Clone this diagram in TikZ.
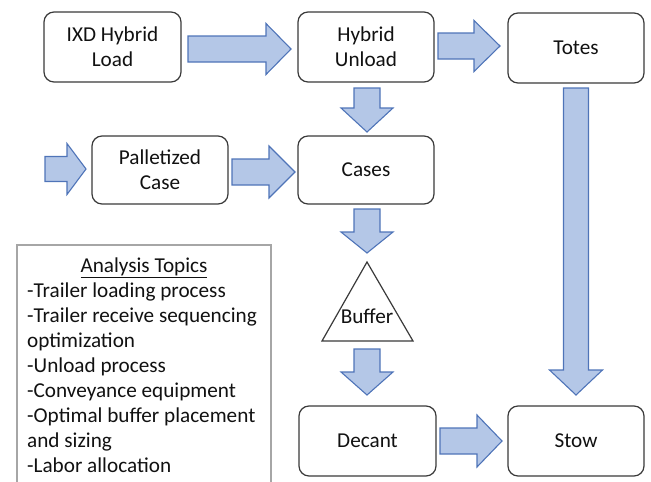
\documentclass[tikz,border=0pt]{standalone}
\usepackage{fontspec}
\setmainfont{Carlito}
\definecolor{arrowfill}{HTML}{B4C7E7}
\definecolor{arrowline}{HTML}{4F74B8}
\definecolor{boxline}{HTML}{3A3A3A}
\definecolor{notesline}{HTML}{A6A6A6}
\definecolor{ink}{HTML}{111111}
% block arrow pointing right: start x, tip x, centre y, shaft half height, head half height, head length
\newcommand\blockR[6]{%
  \draw[blockarrow] (#1,#3-#4) -- (#2-#6,#3-#4) -- (#2-#6,#3-#5) -- (#2,#3)
    -- (#2-#6,#3+#5) -- (#2-#6,#3+#4) -- (#1,#3+#4) -- cycle;}
% block arrow pointing down: centre x, start y, tip y, shaft half width, head half width, head length
\newcommand\blockD[6]{%
  \draw[blockarrow] (#1-#4,#2) -- (#1-#4,#3-#6) -- (#1-#5,#3-#6) -- (#1,#3)
    -- (#1+#5,#3-#6) -- (#1+#4,#3-#6) -- (#1+#4,#2) -- cycle;}
\begin{document}
\begin{tikzpicture}[x=1pt,y=-1pt,
  every node/.style={text=ink},
  txt/.style={font=\fontsize{21.2}{25}\selectfont},
  procbox/.style={draw=boxline, line width=1.2pt, rounded corners=10pt, fill=white,
    align=center, txt, inner sep=0pt},
  blockarrow/.style={draw=arrowline, fill=arrowfill, line width=1.1pt, line join=miter}]
\useasboundingbox (0,0) rectangle (651,482);

% process steps
\node[procbox, minimum width=137pt, minimum height=70pt] (ixd)    at (112.5,47) {IXD Hybrid\\Load};
\node[procbox, minimum width=136pt, minimum height=70pt] (unload) at (366,47)   {Hybrid\\Unload};
\node[procbox, minimum width=136pt, minimum height=70pt] (totes)  at (576,48)   {Totes};
\node[procbox, minimum width=136pt, minimum height=68pt] (pallet) at (160,170)  {Palletized\\Case};
\node[procbox, minimum width=136pt, minimum height=68pt] (cases)  at (366,170)  {Cases};
\node[procbox, minimum width=137pt, minimum height=70pt] (decant) at (367.5,441) {Decant};
\node[procbox, minimum width=136pt, minimum height=70pt] (stow)   at (576,441)  {Stow};

% buffer triangle
\draw[boxline, line width=1.2pt, line join=miter, fill=white]
  (367,262) -- (413,341) -- (322,341) -- cycle;
\node[txt, anchor=base, inner sep=0pt] (buffer) at (367,323) {Buffer};

% flow arrows
\blockR{188}{291}{49}{13}{25.5}{25}
\blockR{438}{500}{46}{13}{25.5}{26}
\blockD{367}{88}{132}{13}{26}{24}
\blockD{576}{88}{395}{12.5}{26.5}{25}
\blockR{45}{86}{169}{12.5}{25.5}{19}
\blockR{232}{295}{172}{13}{26}{26}
\blockD{367}{209}{253}{13}{26}{21}
\blockD{367}{349}{395}{13}{26}{23}
\blockR{440}{502}{441}{13}{26}{25}

% analysis topics panel
\draw[notesline, line width=1.2pt] (17,484) -- (17,245) -- (271,245) -- (271,484);
\node[txt, anchor=base, inner sep=0pt] (topics) at (144,272) {\underline{Analysis Topics}};
\foreach \line [count=\i] in {-Trailer loading process,
    -Trailer receive sequencing, optimization, -Unload process,
    -Conveyance equipment, -Optimal buffer placement, and sizing,
    -Labor allocation}
  \node[txt, anchor=base west, inner sep=0pt] (topic\i) at (27,272+25*\i) {\line};
\end{tikzpicture}
\end{document}
